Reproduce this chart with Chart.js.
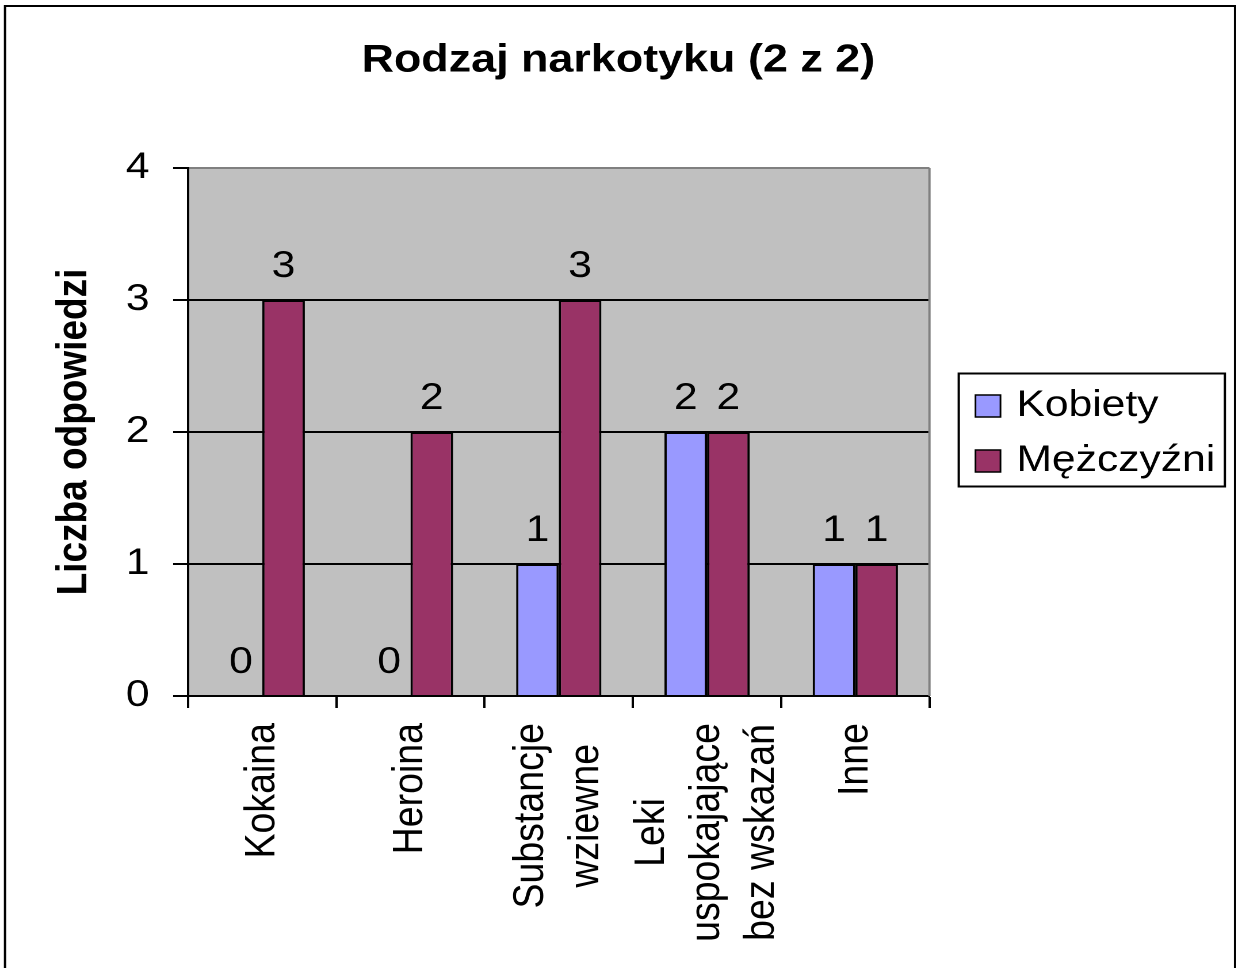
<!DOCTYPE html>
<html><head><meta charset="utf-8">
<script src="https://cdn.jsdelivr.net/npm/chart.js@4.4.1/dist/chart.umd.min.js"></script>
<style>
html,body{margin:0;padding:0;background:#fff;overflow:hidden;}
#wrap{position:absolute;left:0;top:0;width:1074.78px;height:968px;transform:scaleX(1.15);transform-origin:0 0;}
canvas{display:block;}
</style></head><body>
<div id="wrap"><canvas id="c"></canvas></div>
<script>
const chartTitle = 'Rodzaj narkotyku (2 z 2)';
const yTitle = 'Liczba odpowiedzi';
const categories = [['Kokaina'], ['Heroina'], ['Substancje', 'wziewne'], ['Leki', 'uspokajające', 'bez wskazań'], ['Inne']];
const seriesNames = ['Kobiety', 'Mężczyźni'];
const kobiety = [0, 0, 1, 2, 1];
const mezczyzni = [3, 2, 3, 2, 1];
const yTicks = [0, 1, 2, 3, 4];

const SX = 1.15, W = 1236 / SX, H = 968;
const FONT = '"Liberation Sans", Arial, sans-serif';
const PLOT = { left: 188 / SX, right: 929 / SX, top: 168, bottom: 696 };
const LINE_H = 55 / SX;

const bgPlugin = {
  id: 'bg',
  beforeDraw(chart) {
    const { ctx, chartArea: a } = chart;
    ctx.save();
    ctx.fillStyle = '#fff';
    ctx.fillRect(0, 0, chart.width, chart.height);
    ctx.fillStyle = '#C0C0C0';
    ctx.fillRect(a.left, a.top, a.right - a.left, a.bottom - a.top);
    ctx.restore();
  },
  beforeDatasetsDraw(chart) {
    const { ctx, chartArea: a } = chart;
    ctx.save();
    ctx.strokeStyle = '#808080';
    ctx.lineWidth = 2;
    ctx.beginPath();
    ctx.moveTo(a.right, a.top);
    ctx.lineTo(a.right, a.bottom);
    ctx.stroke();
    ctx.restore();
  }
};

const labelsPlugin = {
  id: 'labelsDraw',
  afterDatasetsDraw(chart) {
    const { ctx } = chart;
    ctx.save();
    ctx.fillStyle = '#000';
    ctx.font = '37px ' + FONT;
    ctx.textAlign = 'center';
    ctx.textBaseline = 'middle';
    chart.data.datasets.forEach((ds, i) => {
      const meta = chart.getDatasetMeta(i);
      meta.data.forEach((bar, j) => {
        ctx.fillText(String(ds.data[j]), bar.x, bar.y - 33);
      });
    });
    // category labels (rotated, centered lines)
    ctx.font = '37.5px ' + FONT;
    const xs = chart.scales.x;
    chart.data.labels.forEach((lab, i) => {
      const lines = Array.isArray(lab) ? lab : [lab];
      const cx = xs.getPixelForValue(i);
      const maxW = Math.max(...lines.map(l => ctx.measureText(l).width));
      const cy = xs.top + 27 + maxW / 2;
      lines.forEach((l, k) => {
        ctx.save();
        ctx.translate(cx + (k - (lines.length - 1) / 2) * LINE_H, cy);
        ctx.rotate(-Math.PI / 2);
        ctx.fillText(l, 0, 0);
        ctx.restore();
      });
    });
    ctx.restore();
  },
  afterDraw(chart) {
    const { ctx } = chart;
    ctx.save();
    // legend
    const lx0 = 958.3 / SX, lx1 = 1224.3 / SX, ly0 = 373.5, ly1 = 486.5;
    ctx.strokeStyle = '#000';
    ctx.lineWidth = 2;
    ctx.strokeRect(lx0, ly0, lx1 - lx0, ly1 - ly0);
    ctx.font = '37px ' + FONT;
    ctx.textAlign = 'left';
    ctx.textBaseline = 'middle';
    const rowY = [406, 461];
    chart.data.datasets.forEach((ds, i) => {
      const y = rowY[i];
      const sx = 975 / SX, sw = 25 / SX, sh = 22;
      ctx.fillStyle = ds.backgroundColor;
      ctx.fillRect(sx, y - sh / 2, sw, sh);
      ctx.lineWidth = 1.5;
      ctx.strokeStyle = '#000';
      ctx.strokeRect(sx, y - sh / 2, sw, sh);
      ctx.fillStyle = '#000';
      ctx.fillText(ds.label, 1016 / SX, y);
    });
    // outer frame
    ctx.lineWidth = 2;
    ctx.strokeStyle = '#000';
    ctx.beginPath();
    ctx.moveTo(5 / SX, H + 10);
    ctx.lineTo(5 / SX, 6);
    ctx.lineTo(1234.5 / SX, 6);
    ctx.lineTo(1234.5 / SX, H + 10);
    ctx.stroke();
    ctx.restore();
  }
};

new Chart(document.getElementById('c'), {
  type: 'bar',
  data: {
    labels: categories,
    datasets: [
      { label: seriesNames[0], data: kobiety, backgroundColor: '#9999FF', borderColor: '#000', borderWidth: 2 },
      { label: seriesNames[1], data: mezczyzni, backgroundColor: '#993366', borderColor: '#000', borderWidth: 2 }
    ]
  },
  options: {
    responsive: true,
    maintainAspectRatio: false,
    animation: false,
    devicePixelRatio: 2,
    layout: { padding: 0 },
    datasets: { bar: { categoryPercentage: 0.575, barPercentage: 1.0 } },
    plugins: {
      legend: { display: false },
      tooltip: { enabled: false },
      title: {
        display: true,
        text: chartTitle,
        color: '#000',
        font: { family: FONT, size: 39, weight: 'bold', lineHeight: 1.2 },
        padding: { top: 37.5, bottom: 168 - 37.5 - 46.8 }
      }
    },
    scales: {
      x: {
        type: 'category',
        offset: true,
        ticks: { display: false },
        grid: { offset: true, drawOnChartArea: false, drawTicks: true, tickLength: 12, tickColor: '#000', tickWidth: 2 },
        border: { display: true, color: '#000', width: 2 },
        afterFit(s) { s.height = H - PLOT.bottom; }
      },
      y: {
        type: 'linear',
        position: 'left',
        min: 0,
        max: 4,
        afterBuildTicks(s) { s.ticks = yTicks.map(v => ({ value: v })); },
        ticks: { color: '#000', font: { family: FONT, size: 37 }, padding: 20.5 },
        grid: {
          color: c => (c.tick && c.tick.value === 4 ? '#808080' : '#000'),
          lineWidth: 2,
          tickLength: 13,
          tickColor: '#000',
          tickWidth: 2
        },
        border: { display: true, color: '#000', width: 2 },
        title: {
          display: true,
          text: yTitle,
          color: '#000',
          font: { family: FONT, size: 37, weight: 'bold', lineHeight: 1.2 },
          padding: { top: 42.5, bottom: 0 }
        },
        afterFit(s) { s.width = PLOT.left; }
      },
      yR: {
        type: 'linear',
        position: 'right',
        display: true,
        ticks: { display: false },
        grid: { display: false, drawTicks: false },
        border: { display: false },
        title: { display: false },
        afterFit(s) { s.width = W - PLOT.right; }
      }
    }
  },
  plugins: [bgPlugin, labelsPlugin]
});
</script>
</body></html>
